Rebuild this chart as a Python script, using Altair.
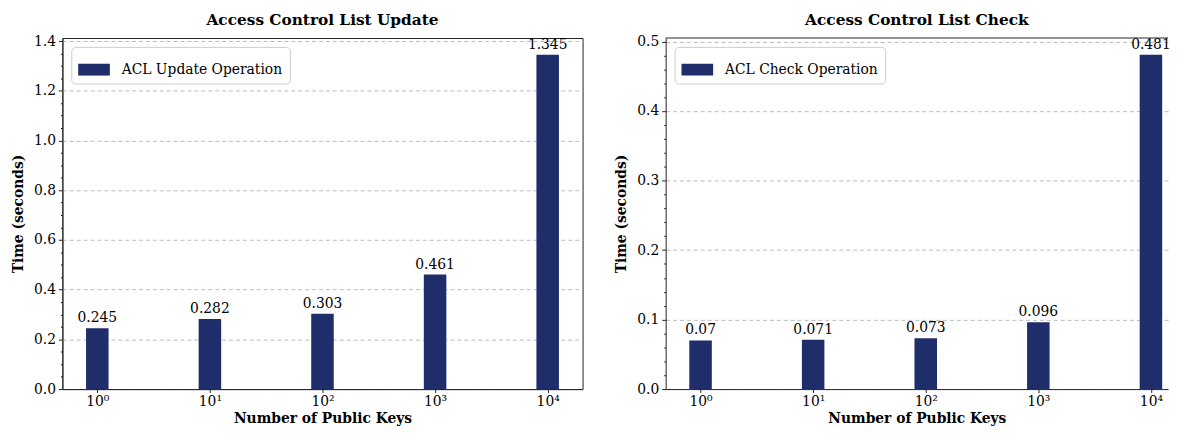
import altair as alt
import pandas as pd

# ---- data ----
categories = ["10⁰", "10¹", "10²", "10³", "10⁴"]
positions = [0, 1, 2, 3, 4]
update_times = [0.245, 0.282, 0.303, 0.461, 1.345]
update_labels = ["0.245", "0.282", "0.303", "0.461", "1.345"]
check_times = [0.07, 0.071, 0.073, 0.096, 0.481]
check_labels = ["0.07", "0.071", "0.073", "0.096", "0.481"]

NAVY = "#1f2d6b"
FONT = "DejaVu Serif"
FRAME = "#222222"


def panel(values, labels, series, title, ymax, major_milli, minor_milli,
          width, xmax, full_frame):
    df = pd.DataFrame({
        "pos": positions,
        "value": values,
        "label": labels,
        "series": [series] * len(values),
    })
    n_minor = int(ymax * 1000 // minor_milli)
    minor_vals = [i * minor_milli / 1000 for i in range(n_minor + 1)]
    test = f"round(datum.value*1000) % {major_milli} == 0"
    cat_arr = "[" + ",".join(f"'{c}'" for c in categories) + "]"

    xscale = alt.Scale(domain=[-0.31, xmax], nice=False, zero=False)
    yscale = alt.Scale(domain=[0, ymax], nice=False, zero=True)

    xaxis = alt.Axis(
        title="Number of Public Keys",
        values=positions,
        labelExpr=f"{cat_arr}[datum.value]",
        grid=False,
        tickSize=3.5,
        labelPadding=2,
        titlePadding=3,
    )
    yaxis = alt.Axis(
        title="Time (seconds)",
        values=minor_vals,
        labelExpr=f"({test}) ? format(datum.value, '.1f') : ''",
        labelOverlap=False,
        tickSize={"condition": {"test": test, "value": 4}, "value": 2},
        gridOpacity={"condition": {"test": test, "value": 1}, "value": 0},
        gridDash=[4, 3],
        gridColor="#bbbbbb",
        grid=True,
        labelPadding=3,
        titlePadding=8,
    )

    base = alt.Chart(df)
    bars = base.transform_calculate(
        x0="datum.pos - 0.1", x1="datum.pos + 0.1"
    ).mark_bar().encode(
        x=alt.X("x0:Q", scale=xscale, axis=xaxis),
        x2="x1:Q",
        y=alt.Y("value:Q", scale=yscale, axis=yaxis),
        y2=alt.datum(0),
        color=alt.Color(
            "series:N",
            scale=alt.Scale(range=[NAVY]),
            legend=alt.Legend(
                title=None,
                orient="top-left",
                offset=9,
                padding=7,
                strokeColor="#cccccc",
                fillColor="white",
                cornerRadius=4,
                symbolType="M-1,-0.375L1,-0.375L1,0.375L-1,0.375Z",
                symbolSize=1024,
                symbolStrokeWidth=0,
                symbolOpacity=1,
                labelFont=FONT,
                labelFontSize=14,
                labelOffset=12,
                labelLimit=300,
            ),
        ),
    )
    text = base.mark_text(
        baseline="bottom", dy=-3, font=FONT, fontSize=14, color="black"
    ).encode(
        x=alt.X("pos:Q", scale=xscale, axis=xaxis),
        y=alt.Y("value:Q", scale=yscale, axis=yaxis),
        text="label:N",
    )
    layers = [bars, text]
    if not full_frame:
        top = alt.Chart(pd.DataFrame({"top": [ymax]})).mark_rule(
            color=FRAME, strokeWidth=1
        ).encode(y=alt.Y("top:Q", scale=yscale, axis=yaxis))
        layers.append(top)
    view = alt.ViewBackground(stroke=FRAME if full_frame else "transparent",
                              strokeWidth=1)
    return alt.layer(*layers).properties(
        width=width,
        height=355,
        view=view,
        title=alt.Title(title, font=FONT, fontSize=15.5, fontWeight="bold", offset=6),
    )


left = panel(update_times, update_labels, "ACL Update Operation",
             "Access Control List Update", 1.41225, 200, 50,
             526, 4.31, True)
right = panel(check_times, check_labels, "ACL Check Operation",
              "Access Control List Check", 0.50505, 100, 20,
              508, 4.152, False)

chart = alt.hconcat(left, right, spacing=31).resolve_scale(
    color="independent"
).resolve_legend(
    color="independent"
).properties(
    padding={"left": 3, "top": 2, "right": 0, "bottom": 0}
).configure_view(
    stroke=FRAME, strokeWidth=1
).configure_axis(
    labelFont=FONT,
    labelFontSize=14,
    labelColor="black",
    titleFont=FONT,
    titleFontSize=14,
    titleFontWeight="bold",
    titleColor="black",
    domainColor=FRAME,
    tickColor=FRAME,
)

chart.save("out.html", embed_options={"renderer": "svg", "actions": False})
